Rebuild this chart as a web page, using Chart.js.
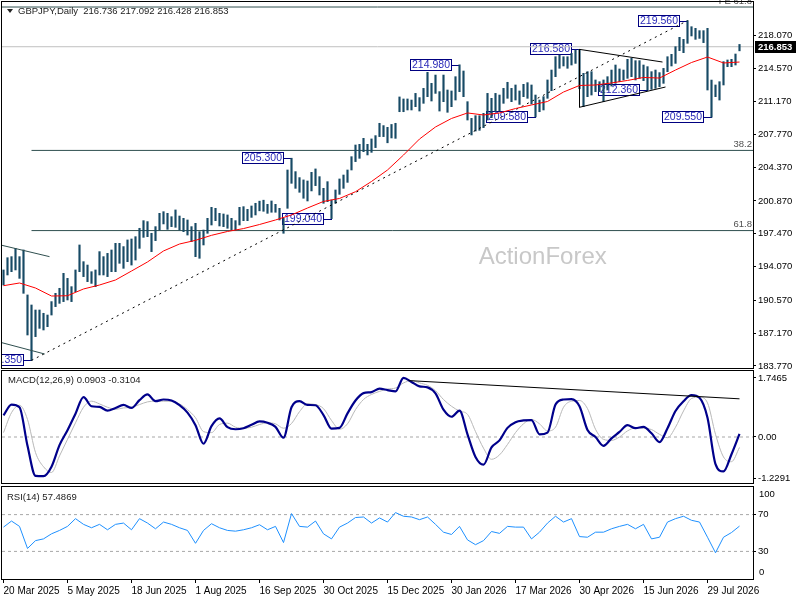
<!DOCTYPE html>
<html>
<head>
<meta charset="utf-8">
<title>GBPJPY Daily</title>
<script src="https://cdn.jsdelivr.net/npm/chart.js@4.4.1/dist/chart.umd.min.js"></script>
<style>
  html, body { margin: 0; padding: 0; background: #fff; }
  #wrap { position: relative; width: 800px; height: 600px; overflow: hidden; background: #fff; }
  canvas { position: absolute; left: 0; }
</style>
</head>
<body>
<div id="wrap">
  <canvas id="price" width="800" height="370" style="top:0px"></canvas>
  <canvas id="macd" width="800" height="117" style="top:369px"></canvas>
  <canvas id="rsi" width="800" height="114" style="top:486px"></canvas>
</div>
<script>
// ---- data (one bar every second session) ----
const barHigh = [
  193.72,194.99,195.10,195.96,195.10,195.79,191.13,190.09,189.57,189.57,
  189.23,189.05,190.44,191.30,191.82,193.37,192.85,191.99,193.72,196.31,
  194.58,194.23,193.54,193.72,195.62,195.10,195.44,195.79,196.48,196.48,
  196.14,196.83,196.93,197.17,198.04,198.83,198.73,197.52,198.21,199.59,
  199.76,199.59,199.24,199.94,199.31,199.07,198.90,198.21,198.55,197.69,
  197.86,199.07,200.21,200.11,199.59,199.52,199.42,199.07,198.83,200.21,
  200.28,200.00,200.35,200.63,200.85,200.95,200.52,200.87,200.52,200.11,
  199.07,204.08,205.30,203.91,203.29,203.05,202.94,203.84,204.19,203.39,
  202.18,202.87,200.97,202.01,203.15,203.56,204.08,205.46,206.67,206.74,
  207.36,206.74,207.30,207.64,208.92,208.68,208.50,208.80,208.92,211.65,
  211.44,211.44,211.33,212.02,211.58,212.54,214.20,213.06,213.92,212.20,
  213.92,212.37,212.27,213.75,214.98,214.34,211.16,209.43,209.71,209.71,
  209.95,212.02,211.51,212.02,211.85,212.54,213.17,212.54,212.89,212.27,
  212.96,213.13,212.89,211.85,211.33,211.68,213.41,214.44,215.82,215.98,
  215.82,215.82,216.17,216.51,216.58,214.10,214.27,214.27,213.41,213.23,
  213.41,213.75,214.44,214.96,214.55,214.44,215.55,215.65,215.41,215.41,
  214.96,214.79,214.27,214.44,214.17,214.61,215.82,216.07,216.86,217.83,
  217.62,219.56,218.93,218.76,218.52,218.52,218.76,213.40,212.89,213.23,
  215.31,215.48,215.55,216.10,217.092
];
const barLow = [
  192.16,193.20,193.54,193.72,192.85,191.30,186.98,184.35,186.81,187.67,
  187.50,187.84,189.05,189.92,190.26,190.44,190.61,190.44,191.47,193.54,
  193.03,192.51,192.33,191.99,193.20,193.20,193.03,193.54,193.54,194.41,
  193.89,194.58,194.23,194.75,195.96,197.10,197.17,195.62,196.76,197.86,
  198.49,197.93,198.21,198.14,197.86,197.69,197.34,196.65,195.10,194.93,
  196.31,197.52,198.38,198.83,198.28,198.21,198.04,197.86,197.86,198.38,
  198.83,198.83,199.17,199.42,199.85,199.80,199.59,199.70,199.70,198.90,
  197.52,200.11,202.70,202.18,201.77,201.15,200.87,201.91,202.46,201.49,
  200.63,200.80,199.04,200.63,201.56,202.18,202.80,204.08,204.95,205.29,
  205.98,205.64,205.91,206.40,207.54,207.54,206.90,207.40,207.36,210.12,
  210.12,210.30,210.30,210.64,210.19,210.99,211.68,211.23,212.02,210.19,
  211.16,210.06,210.64,211.33,212.20,211.68,209.26,207.71,208.12,208.19,
  208.47,209.26,209.50,210.12,210.19,210.99,211.51,211.16,211.33,210.88,
  211.68,211.51,210.92,209.58,210.12,210.30,211.51,212.30,213.75,214.62,
  214.86,214.62,214.96,215.13,212.50,210.64,211.68,211.85,212.20,212.20,
  211.16,212.37,212.78,213.06,213.23,213.41,213.58,213.75,213.41,213.58,
  213.34,212.36,212.44,212.54,212.71,213.06,214.27,214.86,215.13,216.45,
  216.24,217.21,217.97,217.62,217.72,217.28,212.37,209.55,211.68,211.33,
  212.89,214.79,214.79,214.96,216.428
];
// red moving average, one reading every 4th bar
const maValues = [
  192.09,192.37,191.85,191.02,191.05,191.75,192.16,192.68,193.61,194.55,
  195.69,196.41,196.79,197.31,197.71,198.01,198.43,198.90,199.42,200.14,
  200.82,201.13,201.83,202.89,204.08,205.63,207.29,208.54,209.42,209.99,
  209.78,209.99,210.45,210.82,211.18,212.16,212.84,212.89,213.10,213.36,
  213.67,213.61,214.44,215.22,215.79,215.17,215.27
];
const MA_STEP = 4;
// MACD / signal / RSI, one reading every 2nd bar
const macdMain = [
  0.64,0.96,0.88,-0.26,-1.15,-1.16,-0.88,-0.24,0.20,0.69,
  1.18,0.91,0.89,0.78,0.86,0.95,0.86,1.09,1.26,1.06,
  1.11,1.08,0.94,0.72,0.35,-0.20,0.32,0.55,0.29,0.23,
  0.26,0.36,0.46,0.42,0.30,-0.02,0.88,1.06,0.95,0.94,
  0.65,0.25,0.27,0.70,1.08,1.30,1.33,1.43,1.39,1.35,
  1.75,1.63,1.50,1.47,1.29,0.81,0.60,0.78,0.08,-0.59,
  -0.82,-0.31,-0.10,0.27,0.44,0.49,0.50,0.08,0.13,0.96,
  1.11,1.12,0.91,0.21,0.00,-0.26,-0.04,0.15,0.35,0.26,
  0.30,0.11,-0.15,0.26,0.77,1.06,1.24,1.16,0.57,-0.80,
  -1.02,-0.51,0.09
];
const macdSignal = [
  0.13,0.72,0.94,0.52,-0.46,-0.88,-1.05,-0.56,-0.07,0.42,
  0.88,1.06,0.98,0.88,0.82,0.86,0.88,0.96,1.04,1.06,
  1.06,1.06,0.98,0.81,0.57,0.16,0.13,0.37,0.41,0.29,
  0.26,0.29,0.37,0.42,0.39,0.26,0.40,0.75,0.98,0.96,
  0.84,0.49,0.23,0.39,0.81,1.11,1.26,1.35,1.42,1.45,
  1.60,1.67,1.60,1.53,1.37,1.11,0.91,0.77,0.67,0.16,
  -0.33,-0.66,-0.53,-0.22,0.13,0.39,0.52,0.39,0.18,0.29,
  0.88,1.06,1.08,0.84,0.23,-0.07,-0.10,0.00,0.18,0.27,
  0.26,0.22,0.08,-0.02,0.29,0.77,1.14,1.18,1.01,0.08,
  -0.59,-0.73,-0.31
];
const rsiValues = [
  56.4,63.0,57.2,33.2,41.7,43.6,49.1,52.8,57.2,65.6,
  59.4,55.7,59.4,53.5,59.4,60.8,53.5,65.6,60.8,54.6,
  61.9,59.4,55.7,52.8,38.8,52.8,60.1,55.7,52.8,52.0,
  53.5,55.7,59.0,53.5,57.2,39.6,71.1,57.2,56.4,63.0,
  49.1,43.6,56.4,60.8,66.8,67.4,60.8,66.4,61.9,72.2,
  68.2,67.4,64.5,67.4,59.4,50.9,48.4,57.2,42.5,37.3,
  41.7,51.6,49.6,57.2,56.4,56.4,43.6,50.9,60.8,68.2,
  61.9,65.6,46.1,45.4,50.9,50.9,54.6,57.2,59.4,54.6,
  59.4,43.6,45.4,61.9,65.6,68.2,63.8,61.9,45.4,28.5,
  45.4,50.5,57.5
];
const IND_STEP = 2;

// last-bar readouts
const lastOHLC = [216.736, 217.092, 216.428, 216.853];
const macdLast = [0.0903, -0.3104];
const rsiLast = 57.4869;

// axis ticks
const priceTicks = [218.07, 214.57, 211.17, 207.77, 204.37, 200.87, 197.47, 194.07, 190.57, 187.17, 183.77];
const macdTicks = [1.7465, 0, -1.2291];
const macdTickText = ['1.7465', '0.00', '-1.2291'];
const rsiTicks = [70, 30];
const rsiEdgeText = ['100', '0'];
const dateLabels = ['20 Mar 2025', '5 May 2025', '18 Jun 2025', '1 Aug 2025', '16 Sep 2025', '30 Oct 2025',
  '15 Dec 2025', '30 Jan 2026', '17 Mar 2026', '30 Apr 2026', '15 Jun 2026', '29 Jul 2026'];
const dateIdx = [0, 16, 32, 48, 64, 80, 96, 112, 128, 144, 160, 176];

// swing labels: bar index and price
const swingIdx = [7, 72, 82, 114, 133, 144, 161, 171, 177];
const swingPrice = [184.35, 205.30, 199.04, 214.98, 209.58, 216.58, 212.36, 219.56, 209.55];

// fibonacci levels
const fibNames = ['FE 61.8', '38.2', '61.8'];
const fibValues = [220.97, 206.11, 197.80];
const fibStart = [-0.4, 7, 7];

// drawn trend lines, [bar index, price]
const trendUp = [[7, 184.35], [171, 219.56]];
const channelTop = [[-0.75, 196.31], [11.5, 195.10]];
const channelBottom = [[-0.75, 186.22], [10.3, 185.01]];
const triTop = [[144, 216.58], [164.75, 215.27]];
const triBottom = [[144, 210.58], [165.5, 212.68]];
const triSide = [[144, 216.58], [144, 210.58]];
const macdTrend = [[101.25, 1.67], [184, 1.13]];

const X_MIN = -0.375, X_MAX = 187.375;
const FONT = '"Liberation Sans", Arial, sans-serif';
const BAR_COLOR = '#174A65';
const FIB_COLOR = '#2F4F4F';

function seg(pts, color, dash, width, order) {
  return {
    type: 'line', data: pts.map(p => ({x: p[0], y: p[1]})),
    borderColor: color, borderWidth: width, borderDash: dash,
    pointRadius: 0, fill: false, tension: 0, order: order
  };
}

function rightAxis(min, max, ticks, fmt) {
  return {
    type: 'linear', position: 'right', min: min, max: max,
    afterBuildTicks: s => { s.ticks = ticks.map(v => ({value: v})); },
    afterFit: s => { s.width = 47; s.paddingTop = 0; s.paddingBottom = 0; },
    ticks: {callback: fmt, color: '#000', font: {family: FONT, size: 9.5}, padding: 2, autoSkip: false},
    grid: {drawOnChartArea: false, drawTicks: true, tickLength: 3, color: '#000'},
    border: {display: true, color: '#000'}
  };
}

const hiddenX = {type: 'linear', display: false, min: X_MIN, max: X_MAX, offset: false};

const framePlugin = {
  id: 'frame',
  afterDraw(chart) {
    const {ctx, chartArea: a} = chart;
    ctx.save();
    ctx.strokeStyle = '#000';
    ctx.lineWidth = 1;
    ctx.strokeRect(a.left - 0.5, a.top - 0.5, a.right - a.left + 1, a.bottom - a.top + 1);
    ctx.restore();
  }
};

const pricePlugin = {
  id: 'priceDecor',
  beforeDatasetsDraw(chart) {
    const {ctx, chartArea: a, scales: {x, y}} = chart;
    ctx.save();
    ctx.beginPath();
    ctx.rect(a.left, a.top, a.right - a.left, a.bottom - a.top);
    ctx.clip();
    // watermark
    ctx.font = '24px ' + FONT;
    ctx.fillStyle = '#C8C8C8';
    ctx.textAlign = 'center';
    ctx.textBaseline = 'middle';
    ctx.fillText('ActionForex', a.left + (a.right - a.left) * 0.72, a.top + (a.bottom - a.top) * 0.697);
    // swing labels
    ctx.font = '10.5px ' + FONT;
    ctx.lineWidth = 1;
    swingIdx.forEach((idx, k) => {
      const txt = swingPrice[k].toFixed(3);
      const px = Math.round(x.getPixelForValue(idx));
      const py = Math.round(y.getPixelForValue(swingPrice[k]));
      const w = Math.round(ctx.measureText(txt).width) + 3, h = 11;
      const right = px - 9;
      ctx.fillStyle = '#fff';
      ctx.fillRect(right - w, py - 6, w, h);
      ctx.strokeStyle = '#000080';
      ctx.strokeRect(right - w + 0.5, py - 5.5, w, h);
      ctx.beginPath();
      ctx.moveTo(right, py + 0.5);
      ctx.lineTo(px, py + 0.5);
      ctx.stroke();
      ctx.fillStyle = '#2A2AB8';
      ctx.textAlign = 'center';
      ctx.textBaseline = 'middle';
      ctx.fillText(txt, right - w / 2 + 0.5, py + 0.5);
    });
    ctx.restore();
  },
  afterDraw(chart) {
    const {ctx, chartArea: a, scales: {y}} = chart;
    ctx.save();
    // fib level names
    ctx.font = '9.5px ' + FONT;
    ctx.fillStyle = '#505050';
    ctx.textAlign = 'right';
    ctx.textBaseline = 'bottom';
    fibValues.forEach((v, k) => {
      ctx.fillText(fibNames[k], a.right - 1, y.getPixelForValue(v) - 1);
    });
    // header
    ctx.fillStyle = '#222';
    ctx.beginPath();
    ctx.moveTo(a.left + 5, a.top + 7);
    ctx.lineTo(a.left + 11, a.top + 7);
    ctx.lineTo(a.left + 8, a.top + 11);
    ctx.closePath();
    ctx.fill();
    ctx.textAlign = 'left';
    ctx.textBaseline = 'middle';
    ctx.fillText('GBPJPY,Daily  ' + lastOHLC.map(v => v.toFixed(3)).join(' '), a.left + 16, a.top + 9.5);
    // last price box on the axis
    const txt = lastOHLC[3].toFixed(3);
    const py = Math.round(y.getPixelForValue(lastOHLC[3]));
    ctx.font = 'bold 9.5px ' + FONT;
    const w = Math.round(ctx.measureText(txt).width) + 7;
    ctx.fillStyle = '#000';
    ctx.fillRect(a.right + 2, py - 6, w, 12);
    ctx.fillStyle = '#fff';
    ctx.fillText(txt, a.right + 5, py + 0.5);
    ctx.restore();
  }
};

const macdPlugin = {
  id: 'macdDecor',
  afterDraw(chart) {
    const {ctx, chartArea: a} = chart;
    ctx.save();
    ctx.font = '9.5px ' + FONT;
    ctx.fillStyle = '#222';
    ctx.textAlign = 'left';
    ctx.textBaseline = 'middle';
    ctx.fillText('MACD(12,26,9) ' + macdLast[0].toFixed(4) + ' ' + macdLast[1].toFixed(4), a.left + 6, a.top + 9);
    ctx.restore();
  }
};

const rsiPlugin = {
  id: 'rsiDecor',
  afterDraw(chart) {
    const {ctx, chartArea: a} = chart;
    ctx.save();
    ctx.font = '9.5px ' + FONT;
    ctx.fillStyle = '#222';
    ctx.textAlign = 'left';
    ctx.textBaseline = 'middle';
    ctx.fillText('RSI(14) ' + rsiLast.toFixed(4), a.left + 5, a.top + 10);
    ctx.fillStyle = '#000';
    ctx.fillText(rsiEdgeText[0], a.right + 6, a.top + 7);
    ctx.fillText(rsiEdgeText[1], a.right + 6, a.bottom - 7);
    ctx.restore();
  }
};

const common = {
  responsive: false,
  animation: false,
  events: [],
  plugins: {legend: {display: false}, tooltip: {enabled: false}}
};

// ---- price panel ----
const bars = barHigh.map((h, i) => ({x: i, y: [barLow[i], h]}));
const maPts = maValues.map((v, k) => [k * MA_STEP, v]);
const priceSets = [
  {type: 'bar', data: bars, backgroundColor: BAR_COLOR, barThickness: 1.5, order: 5}
];
fibValues.forEach((v, k) => priceSets.push(seg([[fibStart[k], v], [X_MAX, v]], FIB_COLOR, [], 1, 6)));
priceSets.push(seg([[X_MIN, lastOHLC[3]], [X_MAX, lastOHLC[3]]], '#C0C0C0', [], 1, 7));
priceSets.push(seg(channelTop, FIB_COLOR, [], 1, 2));
priceSets.push(seg(channelBottom, FIB_COLOR, [], 1, 2));
priceSets.push(seg(trendUp, '#000', [2, 4], 1, 2));
priceSets.push(seg(triTop, '#000', [], 1, 2));
priceSets.push(seg(triBottom, '#000', [], 1, 2));
priceSets.push(seg(triSide, '#000', [], 1, 2));
priceSets.push(seg(maPts, '#FF0000', [], 1, 1));

new Chart(document.getElementById('price'), {
  type: 'bar',
  data: {datasets: priceSets},
  options: Object.assign({}, common, {
    layout: {padding: {left: 2, top: 2, bottom: 2, right: 0}},
    scales: {
      x: hiddenX,
      y: rightAxis(183.56, 221.49, priceTicks, v => v.toFixed(3))
    }
  }),
  plugins: [pricePlugin, framePlugin]
});

// ---- MACD panel ----
new Chart(document.getElementById('macd'), {
  type: 'line',
  data: {datasets: [
    seg([[X_MIN, 0], [X_MAX, 0]], '#A8A8A8', [3, 3], 1, 4),
    Object.assign(seg(macdSignal.map((v, k) => [k * IND_STEP, v]), '#B8B8B8', [], 1, 3), {cubicInterpolationMode: 'monotone'}),
    Object.assign(seg(macdMain.map((v, k) => [k * IND_STEP, v]), '#00008B', [], 2.2, 2), {cubicInterpolationMode: 'monotone'}),
    seg(macdTrend, '#000', [], 1, 1)
  ]},
  options: Object.assign({}, common, {
    layout: {padding: {left: 2, top: 2, bottom: 3, right: 0}},
    scales: {
      x: hiddenX,
      y: rightAxis(-1.3617, 1.9537, macdTicks, (v, i) => macdTickText[i])
    }
  }),
  plugins: [macdPlugin, framePlugin]
});

// ---- RSI panel with the date axis ----
new Chart(document.getElementById('rsi'), {
  type: 'line',
  data: {datasets: [
    seg([[X_MIN, rsiTicks[0]], [X_MAX, rsiTicks[0]]], '#A8A8A8', [3, 3], 1, 3),
    seg([[X_MIN, rsiTicks[1]], [X_MAX, rsiTicks[1]]], '#A8A8A8', [3, 3], 1, 3),
    seg(rsiValues.map((v, k) => [k * IND_STEP, v]), '#1E90FF', [], 1, 1)
  ]},
  options: Object.assign({}, common, {
    layout: {padding: {left: 2, top: 1, bottom: 0, right: 0}},
    scales: {
      x: {
        type: 'linear', position: 'bottom', min: X_MIN, max: X_MAX, offset: false,
        afterBuildTicks: s => { s.ticks = dateIdx.map(v => ({value: v})); },
        afterFit: s => { s.height = 21; s.paddingLeft = 0; s.paddingRight = 0; },
        ticks: {callback: (v, i) => dateLabels[i], align: 'start', maxRotation: 0, autoSkip: false,
          color: '#000', font: {family: FONT, size: 10}, padding: 2},
        grid: {drawOnChartArea: false, drawTicks: true, tickLength: 4, color: '#000'},
        border: {display: false}
      },
      y: rightAxis(0, 100, rsiTicks, v => String(v))
    }
  }),
  plugins: [rsiPlugin, framePlugin]
});
</script>
</body>
</html>
